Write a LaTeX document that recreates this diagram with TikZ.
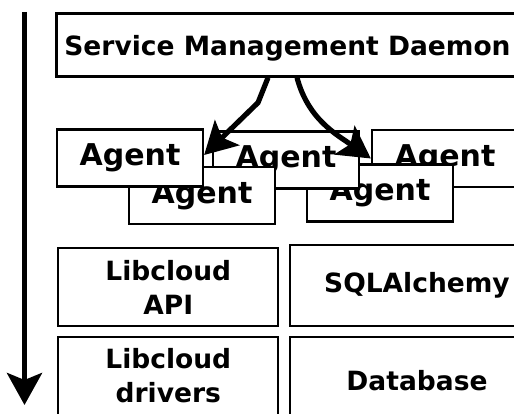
\documentclass[tikz,border=0pt]{standalone}
\usepackage{fontspec}
\setmainfont{DejaVu Sans}
\usetikzlibrary{arrows.meta}
\newcommand{\boxfont}{\bfseries\fontsize{26.5}{34}\selectfont}
\newcommand{\agentfont}{\bfseries\fontsize{30}{36}\selectfont}

\begin{document}
\begin{tikzpicture}[x=1pt,y=1pt,
        unit/.style={draw,fill=white,line width=2.3pt,inner sep=0pt,font=\boxfont,align=center},
        agent/.style={unit,font=\agentfont,minimum width=146pt,minimum height=57pt},
        flow/.style={line width=5.2pt,-{Stealth[length=32pt,width=35pt,inset=7pt]}}]
                \useasboundingbox (0,0) rectangle (514,413);
                \node[unit,minimum width=462pt,minimum height=63pt,text height=22pt,text depth=0pt] (smd) at (287.5,368) {Service Management Daemon};
                \node[agent] (a4) at (445,254.5) {Agent};
                \node[agent] (a5) at (380,220) {Agent};
                \node[agent] (a2) at (286,253) {Agent};
                \node[agent] (a3) at (202,217.5) {Agent};
                \node[agent] (a1) at (130,255) {Agent};
                \node[unit,minimum width=220pt,minimum height=78pt] (api) at (168.3,126) {Libcloud\\API};
                \node[unit,minimum width=254pt,minimum height=81pt] (sql) at (417,127.6) {SQLAlchemy};
                \node[unit,minimum width=220pt,minimum height=78pt] (drv) at (168.3,37.3) {Libcloud\\drivers};
                \node[unit,minimum width=254pt,minimum height=87pt] (db) at (417,32.8) {Database};
                \coordinate (top) at (24.5,401);
                \coordinate (bottom) at (24.5,8);
                \draw[flow] (top) -- (bottom);
                \draw[flow] ([xshift=-19.5pt]smd.south) -- ++(-10,-25) -- ([yshift=3pt]a1.east);
                \draw[flow] ([xshift=9.5pt]smd.south) to[out=-75,in=145] (a4.west);
            \end{tikzpicture}
\end{document}
